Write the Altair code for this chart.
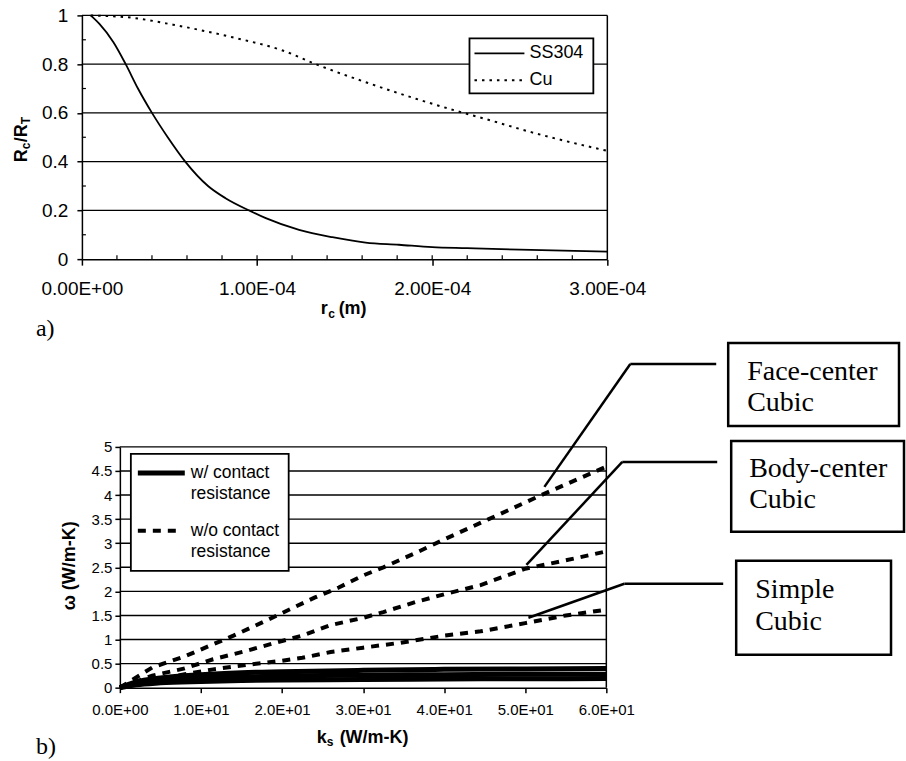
import altair as alt
import pandas as pd

# ---------------- Panel a) data ----------------
ss304_r = [0.5e-5, 1.0e-5, 1.8e-5, 2.5e-5, 3.2e-5, 4.0e-5, 4.9e-5, 5.9e-5, 7.2e-5, 8.2e-5,
           9.6e-5, 1.05e-4, 1.24e-4, 1.43e-4, 1.62e-4, 1.81e-4, 2.0e-4, 2.2e-4, 2.5e-4,
           2.75e-4, 3.0e-4]
ss304_ratio = [1.0, 0.965, 0.89, 0.80, 0.70, 0.60, 0.50, 0.40, 0.30, 0.25,
               0.198, 0.168, 0.12, 0.09, 0.068, 0.059, 0.049, 0.045, 0.039,
               0.035, 0.031]
cu_r = [0.5e-5, 2.9e-5, 5.2e-5, 8.6e-5, 1.146e-4, 1.356e-4, 1.62e-4, 1.907e-4,
        2.154e-4, 2.29e-4, 2.57e-4, 3.0e-4]
cu_ratio = [1.0, 0.99, 0.962, 0.91, 0.856, 0.794, 0.726, 0.658, 0.605, 0.578, 0.52, 0.444]

top_x_ticks = [0, 1e-4, 2e-4, 3e-4]
top_x_minor = [2e-5, 4e-5, 6e-5, 8e-5, 1e-4, 1.2e-4, 1.4e-4, 1.6e-4, 1.8e-4, 2e-4,
               2.2e-4, 2.4e-4, 2.6e-4, 2.8e-4]
top_y_ticks = [0, 0.2, 0.4, 0.6, 0.8, 1.0]
top_y_minor = [0.1, 0.3, 0.5, 0.7, 0.9]

# ---------------- Panel b) data ----------------
fcc_k_wo = [0, 4, 8, 11.5, 14, 17.5, 20, 24, 27, 30, 32.5, 36.5, 40, 45.5, 52, 60]
fcc_w_wo = [0, 0.42, 0.65, 0.9, 1.08, 1.35, 1.55, 1.87, 2.08, 2.33, 2.5, 2.8, 3.08, 3.5, 4.0, 4.59]
bcc_k_wo = [0, 4, 8, 11.5, 15.5, 20, 22.5, 26, 30, 32.5, 36.5, 40, 44.5, 50, 56, 60]
bcc_w_wo = [0, 0.25, 0.4, 0.59, 0.76, 0.97, 1.08, 1.3, 1.45, 1.57, 1.78, 1.94, 2.13, 2.47, 2.68, 2.83]
sc_k_wo = [0, 4, 8, 11.5, 16, 20, 22.5, 26, 30, 34.5, 40, 44.5, 50, 55, 60]
sc_w_wo = [0, 0.15, 0.28, 0.38, 0.48, 0.56, 0.62, 0.74, 0.83, 0.93, 1.08, 1.17, 1.34, 1.5, 1.62]
k_w = [0, 2, 5, 10, 15, 20, 30, 40, 50, 60]
fcc_w_w = [0, 0.12, 0.2, 0.27, 0.31, 0.33, 0.36, 0.38, 0.39, 0.4]
bcc_w_w = [0, 0.09, 0.15, 0.2, 0.22, 0.24, 0.26, 0.27, 0.28, 0.28]
sc_w_w = [0, 0.06, 0.1, 0.13, 0.15, 0.16, 0.17, 0.18, 0.185, 0.19]

bot_x_ticks = [0, 10, 20, 30, 40, 50, 60]
bot_y_ticks = [0, 0.5, 1, 1.5, 2, 2.5, 3, 3.5, 4, 4.5, 5]

SANS = "Liberation Sans"
SERIF = "Liberation Serif"
ONE = alt.Data(values=[{"o": 1}])

W1, H1 = 526, 244
W2, H2 = 525, 241
SHIFT = 38

ax_common = dict(grid=False, title=None, domainColor="black", domainWidth=1.5,
                 tickColor="black", tickWidth=1.5, labelColor="black", labelFont=SANS,
                 labelFlush=False, labelOverlap=False)


def txt(s, x, y, size, font=SANS, weight="normal", angle=0, align="left", baseline="alphabetic"):
    return alt.Chart(ONE).mark_text(text=s, font=font, fontSize=size, fontWeight=weight,
                                    angle=angle, align=align, baseline=baseline,
                                    color="black").encode(x=alt.value(x), y=alt.value(y))


def seg(x1, y1, x2, y2, w=2.5, dash=None):
    kw = dict(color="black", strokeWidth=w)
    if dash:
        kw["strokeDash"] = dash
    return alt.Chart(ONE).mark_rule(**kw).encode(
        x=alt.value(x1), y=alt.value(y1), x2=alt.value(x2), y2=alt.value(y2))


def box(x1, y1, x2, y2, w=2.0):
    return alt.Chart(ONE).mark_rect(fill="white", stroke="black", strokeWidth=w).encode(
        x=alt.value(x1), x2=alt.value(x2), y=alt.value(y1), y2=alt.value(y2))


# ================= TOP PANEL =================
xs1 = alt.Scale(domain=[0, 3e-4], nice=False, zero=False)
ys1 = alt.Scale(domain=[0, 1], nice=False)
xa1 = alt.Axis(values=top_x_ticks,
               labelExpr="replace(replace(format(datum.value,'.2e'),'e+','E+0'),'e-','E-0')",
               labelFontSize=19, labelPadding=14, tickSize=6, **ax_common)
ya1 = alt.Axis(values=top_y_ticks, format="~g", labelFontSize=19, labelPadding=9,
               tickSize=5, **ax_common)

ss_line = alt.Chart(pd.DataFrame({"r": ss304_r, "v": ss304_ratio})).mark_line(
    color="black", strokeWidth=1.8, interpolate="monotone").encode(
    x=alt.X("r:Q", scale=xs1, axis=xa1), y=alt.Y("v:Q", scale=ys1, axis=ya1))
cu_line = alt.Chart(pd.DataFrame({"r": cu_r, "v": cu_ratio})).mark_line(
    color="black", strokeWidth=2, strokeDash=[2.5, 5], interpolate="monotone").encode(
    x=alt.X("r:Q", scale=xs1, axis=xa1), y=alt.Y("v:Q", scale=ys1, axis=ya1))
top_grid = alt.Chart(pd.DataFrame({"g": top_y_ticks[1:]})).mark_rule(
    color="black", strokeWidth=1.4).encode(y=alt.Y("g:Q", scale=ys1, axis=ya1))
top_right = alt.Chart(ONE).mark_rule(color="black", strokeWidth=1.5).encode(
    x=alt.XDatum(3e-4, scale=xs1, axis=xa1))
top_xminor = alt.Chart(pd.DataFrame({"m": top_x_minor})).mark_rule(
    color="black", strokeWidth=1.2).encode(
    x=alt.X("m:Q", scale=xs1, axis=xa1), y=alt.value(H1), y2=alt.value(H1 - 4))
top_yminor = alt.Chart(pd.DataFrame({"m": top_y_minor})).mark_rule(
    color="black", strokeWidth=1.2).encode(
    y=alt.Y("m:Q", scale=ys1, axis=ya1), x=alt.value(0), x2=alt.value(4))

top_layers = [
    top_grid, ss_line, cu_line, top_right, top_xminor, top_yminor,
    # legend
    box(388, 23, 512, 78, 1.8),
    seg(393, 38, 443, 38, 1.8),
    seg(393, 65, 443, 65, 2, [2.5, 5]),
    txt("SS304", 448, 38, 18, baseline="middle"),
    txt("Cu", 448, 65, 18, baseline="middle"),
    # y title R_c/R_T
    txt("R", -55, 147, 18, weight="bold", angle=270),
    txt("c", -52, 134, 12, weight="bold", angle=270),
    txt("/R", -55, 127, 18, weight="bold", angle=270),
    txt("T", -52, 109, 12, weight="bold", angle=270),
    # x title r_c (m)
    txt("r", 239, 299, 18, weight="bold"),
    txt("c", 246.5, 302.5, 12, weight="bold"),
    txt("(m)", 257, 299, 18, weight="bold"),
    txt("a)", -46, 321, 24, font=SERIF),
    # anchor for layout
    alt.Chart(ONE).mark_rect(color="white").encode(
        x=alt.value(-82), x2=alt.value(-81), y=alt.value(-15), y2=alt.value(-14)),
]
top = alt.layer(*top_layers).properties(width=W1, height=H1)

# ================= BOTTOM PANEL =================
xs2 = alt.Scale(domain=[0, 60], nice=False, zero=False, range=[SHIFT, W2])
ys2 = alt.Scale(domain=[0, 5], nice=False)
xa2 = alt.Axis(values=bot_x_ticks,
               labelExpr="replace(replace(format(datum.value,'.1e'),'e+','E+0'),'e-','E-0')",
               labelFontSize=15, labelPadding=10, tickSize=5, **ax_common)
ya2 = alt.Axis(values=bot_y_ticks, format="~g", labelFontSize=15, labelPadding=3,
               tickSize=5, offset=-SHIFT, **ax_common)

wo_df = pd.concat([
    pd.DataFrame({"k": fcc_k_wo, "w": fcc_w_wo, "lat": "Face-center"}),
    pd.DataFrame({"k": bcc_k_wo, "w": bcc_w_wo, "lat": "Body-center"}),
    pd.DataFrame({"k": sc_k_wo, "w": sc_w_wo, "lat": "Simple"}),
])
w_df = pd.concat([
    pd.DataFrame({"k": k_w, "w": fcc_w_w, "lat": "Face-center"}),
    pd.DataFrame({"k": k_w, "w": bcc_w_w, "lat": "Body-center"}),
    pd.DataFrame({"k": k_w, "w": sc_w_w, "lat": "Simple"}),
])

solid = alt.Chart(w_df).mark_line(color="black", strokeWidth=5, interpolate="monotone").encode(
    x=alt.X("k:Q", scale=xs2, axis=xa2), y=alt.Y("w:Q", scale=ys2, axis=ya2),
    detail="lat:N")
dashed = alt.Chart(wo_df).mark_line(color="black", strokeWidth=4, strokeDash=[8, 7]).encode(
    x=alt.X("k:Q", scale=xs2, axis=xa2), y=alt.Y("w:Q", scale=ys2, axis=ya2),
    detail="lat:N")
bot_grid = alt.Chart(pd.DataFrame({"g": bot_y_ticks[1:]})).mark_rule(
    color="black", strokeWidth=1.4).encode(
    y=alt.Y("g:Q", scale=ys2, axis=ya2),
    x=alt.XDatum(0, scale=xs2, axis=xa2), x2=alt.X2Datum(60))
bot_right = alt.Chart(ONE).mark_rule(color="black", strokeWidth=1.5).encode(
    x=alt.XDatum(60, scale=xs2, axis=xa2))

bot_layers = [
    bot_grid, solid, dashed, bot_right,
    # legend
    box(49, 7, 207, 124, 1.8),
    seg(56, 26, 103, 26, 5),
    seg(56, 84, 101, 84, 4, [8, 7]),
    txt("w/ contact", 109, 26, 17.5, baseline="middle"),
    txt("resistance", 109, 47, 17.5, baseline="middle"),
    txt("w/o contact", 109, 84, 17.5, baseline="middle"),
    txt("resistance", 109, 105, 17.5, baseline="middle"),
    # titles
    txt("k", 235, 296, 18, weight="bold"),
    txt("s", 245, 299.5, 12, weight="bold"),
    txt("(W/m-K)", 258, 296, 18, weight="bold"),
    txt("ω (W/m-K)", -7, 119, 18, weight="bold", angle=270, align="center"),
    txt("b)", -46, 307, 24, font=SERIF),
    # callouts
    seg(635, -83, 549, -83), seg(549, -83, 463, 40),
    seg(636, 15, 541, 15), seg(541, 15, 445, 118),
    seg(642, 137, 543, 137), seg(543, 137, 447, 171),
    # annotation boxes
    box(647, -104, 818, -21, 2.5),
    txt("Face-center", 666, -67, 28, font=SERIF),
    txt("Cubic", 666, -36, 28, font=SERIF),
    box(650, -6, 823, 85, 2.5),
    txt("Body-center", 668, 30, 28, font=SERIF),
    txt("Cubic", 668, 61, 28, font=SERIF),
    box(655, 114, 810, 208, 2.5),
    txt("Simple", 674, 151, 28, font=SERIF),
    txt("Cubic", 674, 183, 28, font=SERIF),
]
bottom = alt.layer(*bot_layers).properties(width=W2, height=H2)

chart = alt.vconcat(top, bottom, spacing=188, bounds="flush").properties(
    padding=0).configure_view(stroke=None)

chart.save("out.html", embed_options={"renderer": "svg", "actions": False})
